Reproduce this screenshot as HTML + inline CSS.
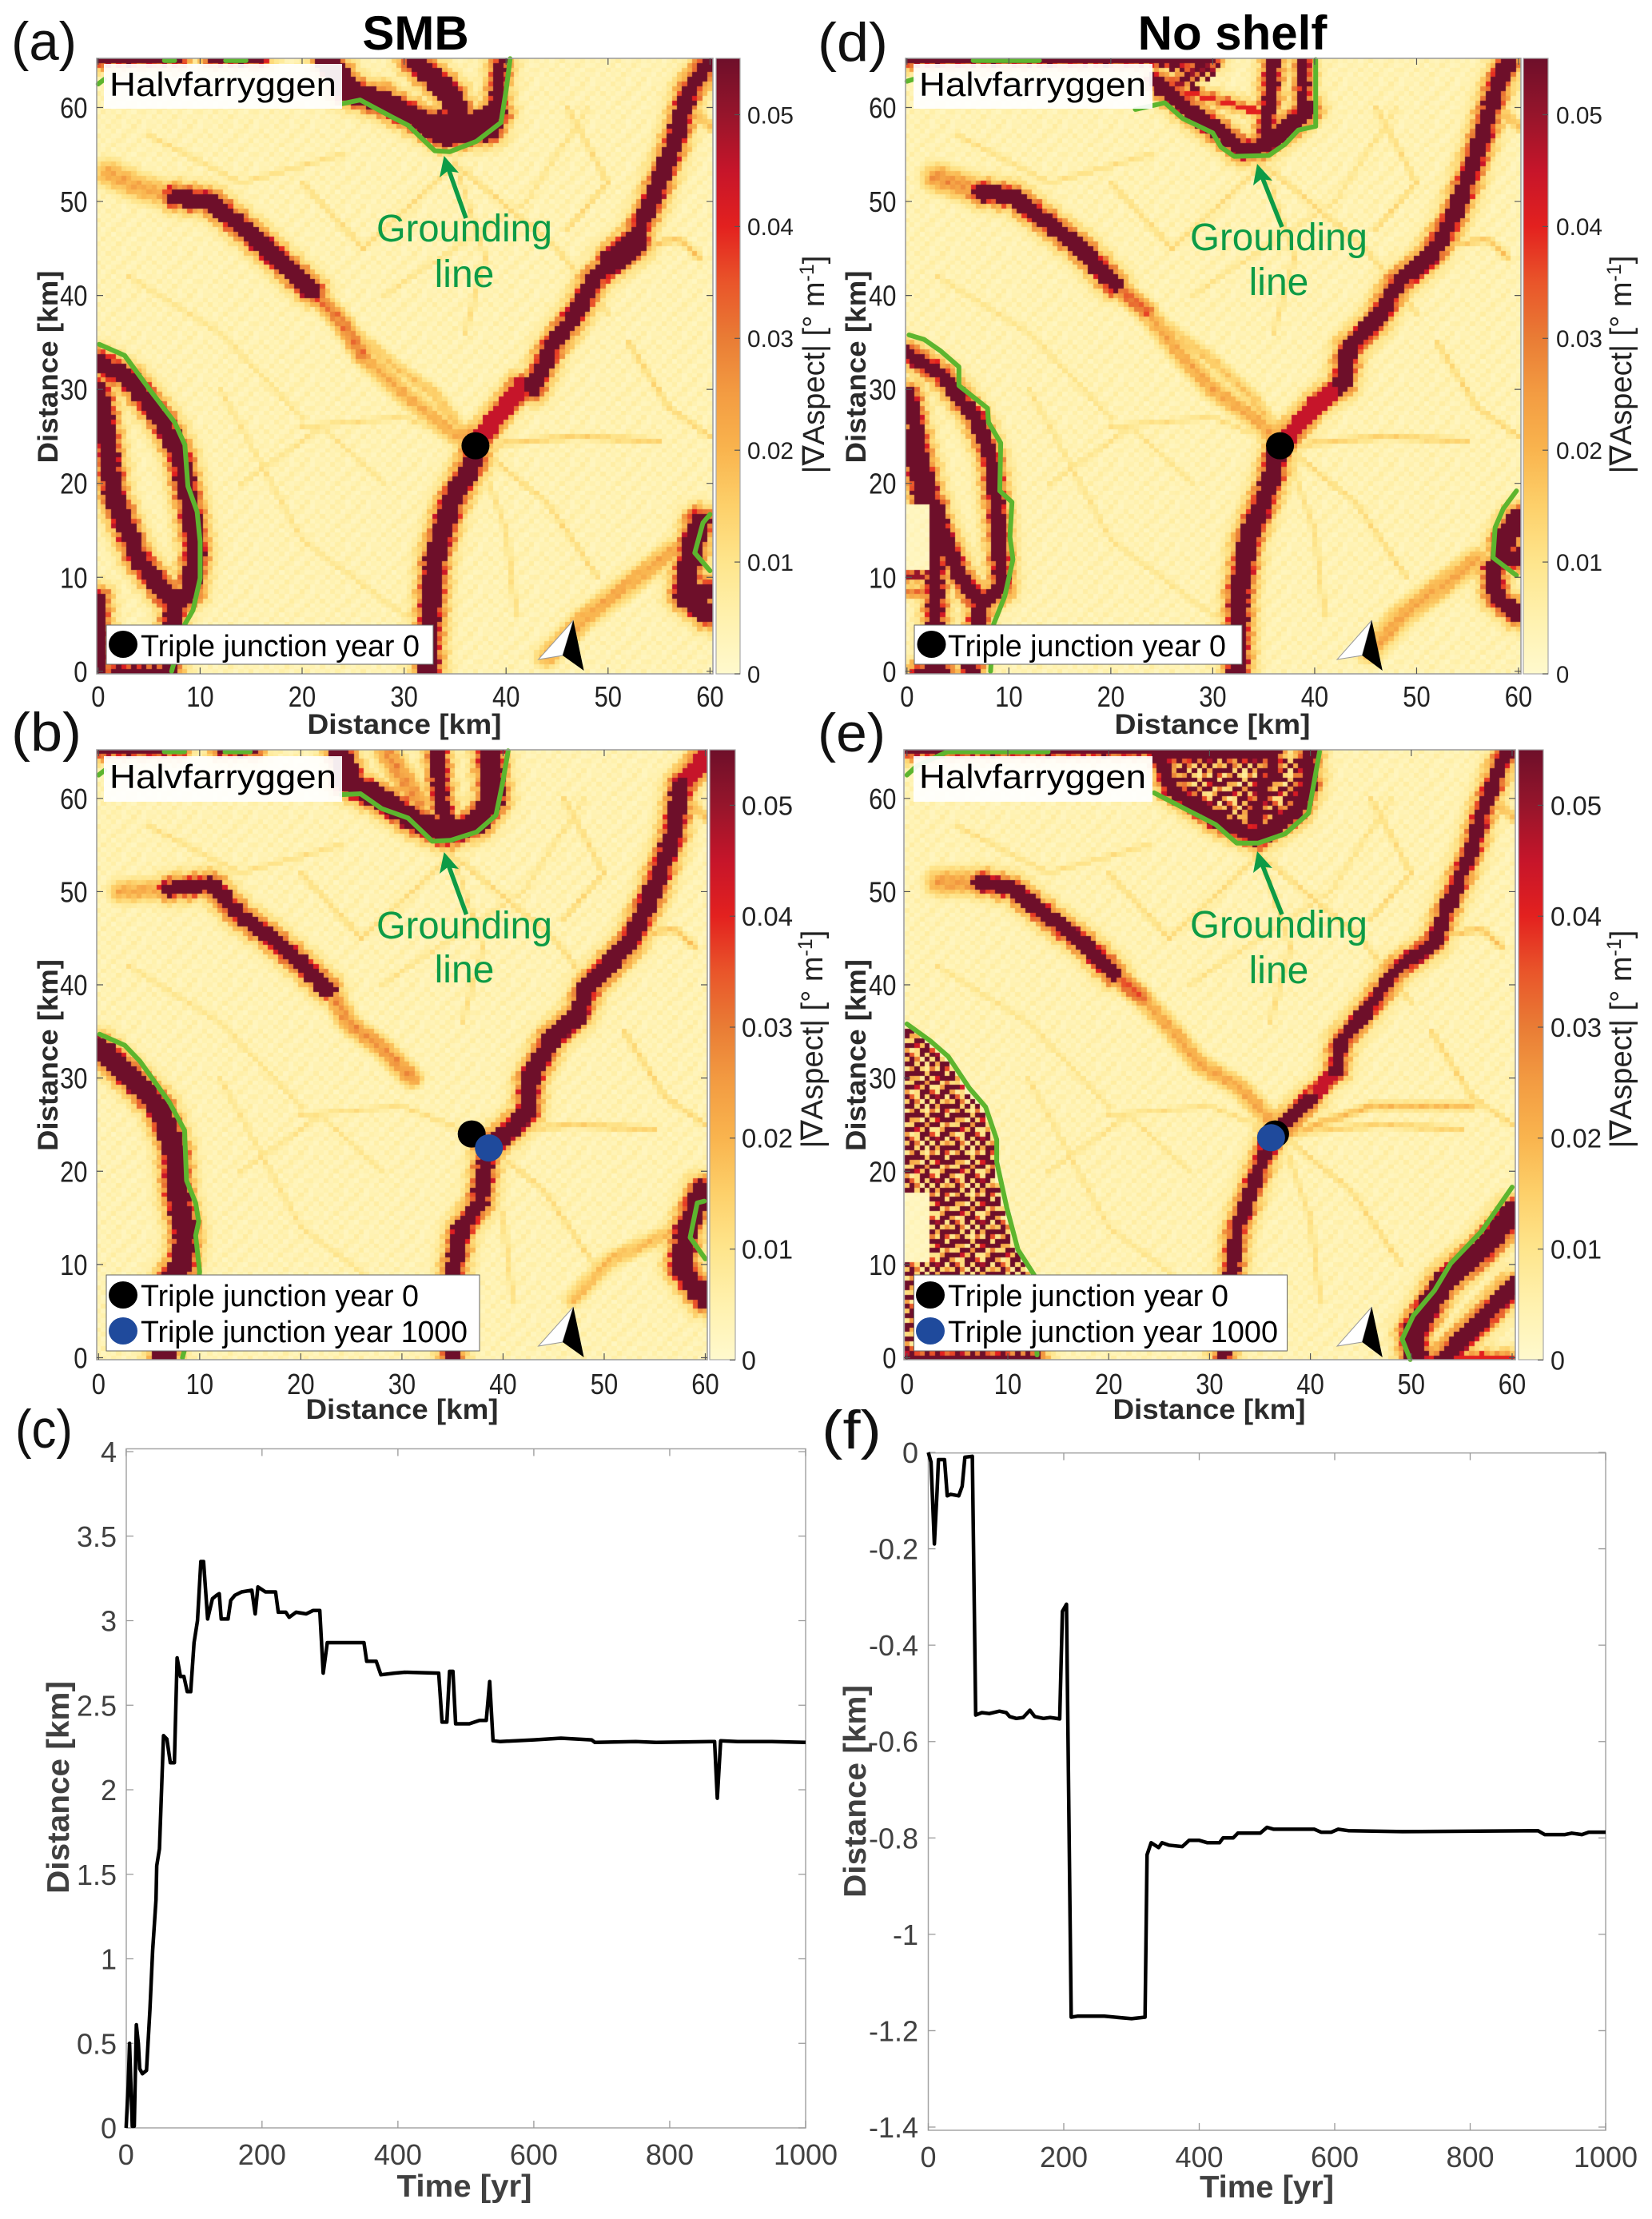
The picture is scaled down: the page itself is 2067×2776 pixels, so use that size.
<!DOCTYPE html>
<html>
<head>
<meta charset="utf-8">
<title>Triple junction migration, Halvfarryggen</title>
<style>
html,body{margin:0;padding:0;background:#fff}
#figure{position:relative;width:2067px;height:2776px;overflow:hidden;background:#fff;font-family:"Liberation Sans",sans-serif}
canvas{position:absolute;display:block}
svg{position:absolute;left:0;top:0}
text{font-family:"Liberation Sans","DejaVu Sans",sans-serif}
.letter{font-size:68px;fill:#111}
.head{font-size:60px;font-weight:bold;fill:#000;text-anchor:middle}
.axt{font-size:35px;font-weight:bold;fill:#2b2b2b;text-anchor:middle}
.axl{font-size:39px;font-weight:bold;fill:#404040;text-anchor:middle}
.lab{font-size:42px;fill:#000}
.leg{font-size:38px;fill:#000}
.gl{font-size:48px;fill:#0d9b46;text-anchor:middle}
.cbt{font-size:38px;fill:#222;text-anchor:middle}
</style>
</head>
<body>
<div id="figure">
<canvas id="heat-a" width="771" height="770" style="left:121px;top:73px;width:771px;height:770px"></canvas>
<canvas id="heat-d" width="770" height="770" style="left:1133px;top:73px;width:770px;height:770px"></canvas>
<canvas id="heat-b" width="764" height="763" style="left:121px;top:938px;width:764px;height:763px"></canvas>
<canvas id="heat-e" width="765" height="763" style="left:1131px;top:938px;width:765px;height:763px"></canvas>
<svg id="overlay" width="2067" height="2776" viewBox="0 0 2067 2776" xmlns="http://www.w3.org/2000/svg">
<defs id="defs"></defs>
<text class="letter" x="14" y="75" textLength="82" lengthAdjust="spacingAndGlyphs">(a)</text>
<text class="letter" x="14" y="939" textLength="88" lengthAdjust="spacingAndGlyphs">(b)</text>
<text class="letter" x="19" y="1811" textLength="72" lengthAdjust="spacingAndGlyphs">(c)</text>
<text class="letter" x="1023" y="76" textLength="88" lengthAdjust="spacingAndGlyphs">(d)</text>
<text class="letter" x="1023" y="940" textLength="85" lengthAdjust="spacingAndGlyphs">(e)</text>
<text class="letter" x="1028" y="1812" textLength="75" lengthAdjust="spacingAndGlyphs">(f)</text>
<text class="head" x="520" y="62">SMB</text>
<text class="head" x="1542" y="62">No shelf</text>

<text class="axt" x="506" y="918" textLength="243" lengthAdjust="spacingAndGlyphs">Distance [km]</text>
<text class="axt" x="503" y="1775" textLength="241" lengthAdjust="spacingAndGlyphs">Distance [km]</text>
<text class="axt" x="1517" y="918" textLength="245" lengthAdjust="spacingAndGlyphs">Distance [km]</text>
<text class="axt" x="1513" y="1775" textLength="241" lengthAdjust="spacingAndGlyphs">Distance [km]</text>
<text class="axt" transform="translate(72,459) rotate(-90)" textLength="241" lengthAdjust="spacingAndGlyphs">Distance [km]</text>
<text class="axt" transform="translate(72,1320) rotate(-90)" textLength="240" lengthAdjust="spacingAndGlyphs">Distance [km]</text>
<text class="axt" transform="translate(1083,459) rotate(-90)" textLength="241" lengthAdjust="spacingAndGlyphs">Distance [km]</text>
<text class="axt" transform="translate(1083,1320) rotate(-90)" textLength="240" lengthAdjust="spacingAndGlyphs">Distance [km]</text>

<text class="cbt" transform="translate(1031,456) rotate(-90)">|∇Aspect| [° m<tspan dy="-13" font-size="25">-1</tspan><tspan dy="13">]</tspan></text>
<text class="cbt" transform="translate(1029,1300) rotate(-90)">|∇Aspect| [° m<tspan dy="-13" font-size="25">-1</tspan><tspan dy="13">]</tspan></text>
<text class="cbt" transform="translate(2041,456) rotate(-90)">|∇Aspect| [° m<tspan dy="-13" font-size="25">-1</tspan><tspan dy="13">]</tspan></text>
<text class="cbt" transform="translate(2041,1300) rotate(-90)">|∇Aspect| [° m<tspan dy="-13" font-size="25">-1</tspan><tspan dy="13">]</tspan></text>

<text class="axl" x="581" y="2748" textLength="169" lengthAdjust="spacingAndGlyphs">Time [yr]</text>
<text class="axl" x="1585" y="2749" textLength="168" lengthAdjust="spacingAndGlyphs">Time [yr]</text>
<text class="axl" transform="translate(86,2236) rotate(-90)" textLength="266" lengthAdjust="spacingAndGlyphs">Distance [km]</text>
<text class="axl" transform="translate(1083,2241) rotate(-90)" textLength="266" lengthAdjust="spacingAndGlyphs">Distance [km]</text>

<g id="plots"></g>

<g><rect x="130" y="80" width="298" height="56" fill="#fff" fill-opacity="0.92"/><text class="lab" x="137" y="120" textLength="284" lengthAdjust="spacingAndGlyphs">Halvfarryggen</text></g>
<g><rect x="130" y="946" width="298" height="57" fill="#fff" fill-opacity="0.92"/><text class="lab" x="137" y="986" textLength="284" lengthAdjust="spacingAndGlyphs">Halvfarryggen</text></g>
<g><rect x="1143" y="80" width="299" height="56" fill="#fff" fill-opacity="0.92"/><text class="lab" x="1150" y="120" textLength="284" lengthAdjust="spacingAndGlyphs">Halvfarryggen</text></g>
<g><rect x="1143" y="946" width="299" height="57" fill="#fff" fill-opacity="0.92"/><text class="lab" x="1150" y="986" textLength="284" lengthAdjust="spacingAndGlyphs">Halvfarryggen</text></g>

<g><text class="gl" x="581" y="302" textLength="220" lengthAdjust="spacingAndGlyphs">Grounding</text><text class="gl" x="581" y="359">line</text><path d="M583 273 L561 211" stroke="#0d9b46" stroke-width="5.5" fill="none"/><path d="M555.6 195 L550 222 L560 214 L574 216 Z" fill="#0d9b46"/></g>
<g><text class="gl" x="581" y="1174" textLength="220" lengthAdjust="spacingAndGlyphs">Grounding</text><text class="gl" x="581" y="1229">line</text><path d="M583.5 1144 L561 1082" stroke="#0d9b46" stroke-width="5.5" fill="none"/><path d="M555.6 1066 L550 1093 L560 1085 L574 1087 Z" fill="#0d9b46"/></g>
<g><text class="gl" x="1600" y="313" textLength="222" lengthAdjust="spacingAndGlyphs">Grounding</text><text class="gl" x="1600" y="369">line</text><path d="M1604 284 L1579 221" stroke="#0d9b46" stroke-width="5.5" fill="none"/><path d="M1573 205 L1568 232 L1578 224 L1592 226 Z" fill="#0d9b46"/></g>
<g><text class="gl" x="1600" y="1173" textLength="222" lengthAdjust="spacingAndGlyphs">Grounding</text><text class="gl" x="1600" y="1230">line</text><path d="M1604 1144 L1579 1081" stroke="#0d9b46" stroke-width="5.5" fill="none"/><path d="M1573 1065 L1568 1092 L1578 1084 L1592 1086 Z" fill="#0d9b46"/></g>

<g><path d="M717.4 776 L673.6 825 L704 820 Z" fill="#fff" stroke="#999" stroke-width="1"/><path d="M717.4 776 L704 820 L730.6 839 Z" fill="#000"/></g>
<g><path d="M717.4 1635 L673.6 1684 L704 1679 Z" fill="#fff" stroke="#999" stroke-width="1"/><path d="M717.4 1635 L704 1679 L730.6 1698 Z" fill="#000"/></g>
<g><path d="M1716.4 776 L1673 825 L1704.4 820 Z" fill="#fff" stroke="#999" stroke-width="1"/><path d="M1716.4 776 L1704.4 820 L1729.8 839 Z" fill="#000"/></g>
<g><path d="M1716.4 1635 L1673 1684 L1704.4 1679 Z" fill="#fff" stroke="#999" stroke-width="1"/><path d="M1716.4 1635 L1704.4 1679 L1729.8 1698 Z" fill="#000"/></g>

<g><rect x="133" y="782" width="409" height="49" fill="#fff" stroke="#666" stroke-width="1"/><ellipse cx="154" cy="806" rx="18" ry="17" fill="#000"/><text class="leg" x="176" y="821" textLength="349" lengthAdjust="spacingAndGlyphs">Triple junction year 0</text></g>
<g><rect x="1144" y="782" width="410" height="49" fill="#fff" stroke="#666" stroke-width="1"/><ellipse cx="1165.5" cy="806" rx="18" ry="17" fill="#000"/><text class="leg" x="1186" y="821" textLength="348" lengthAdjust="spacingAndGlyphs">Triple junction year 0</text></g>
<g><rect x="133" y="1595" width="467" height="95" fill="#fff" stroke="#666" stroke-width="1"/><ellipse cx="154" cy="1620" rx="18" ry="17" fill="#000"/><text class="leg" x="176" y="1634" textLength="348" lengthAdjust="spacingAndGlyphs">Triple junction year 0</text><ellipse cx="154" cy="1665" rx="18" ry="17" fill="#1f4a9c"/><text class="leg" x="176" y="1679" textLength="409" lengthAdjust="spacingAndGlyphs">Triple junction year 1000</text></g>
<g><rect x="1143.5" y="1595" width="467" height="95" fill="#fff" stroke="#666" stroke-width="1"/><ellipse cx="1164" cy="1620" rx="18" ry="17" fill="#000"/><text class="leg" x="1186" y="1634" textLength="351" lengthAdjust="spacingAndGlyphs">Triple junction year 0</text><ellipse cx="1164" cy="1665" rx="18" ry="17" fill="#1f4a9c"/><text class="leg" x="1186" y="1679" textLength="413" lengthAdjust="spacingAndGlyphs">Triple junction year 1000</text></g>
</svg>
</div>
<script>
// ---------- shared axis data ----------
const distanceTicks = [0, 10, 20, 30, 40, 50, 60];
const distanceTickLabels = ["0", "10", "20", "30", "40", "50", "60"];
const colorbarTicks = [0, 0.01, 0.02, 0.03, 0.04, 0.05];
const colorbarTickLabels = ["0", "0.01", "0.02", "0.03", "0.04", "0.05"];
const colormapValues = [0, 0.005, 0.01, 0.015, 0.02, 0.025, 0.03, 0.035, 0.04, 0.045, 0.05, 0.055];
const colormapColors = ["#fff9cd", "#fff1ae", "#fee58c", "#fdd06a", "#f9b44e", "#f39c42", "#e97c35", "#e9552a", "#e3211f", "#c6152a", "#96152b", "#6e0f2a"];
// background cell texture, in ten-thousandths of degrees per metre
const backgroundTile = [
 [38,52,30,62,46,24,54,36,70,28,44],[60,28,46,36,72,44,30,52,38,46,26],[30,70,38,54,28,60,36,22,56,62,40],[44,36,62,22,52,38,70,46,28,34,56],
 [54,24,46,72,38,30,44,62,36,50,30],[36,60,28,44,64,52,24,38,72,28,48],[70,36,52,30,38,72,46,28,44,60,34],[28,46,36,62,24,44,62,54,30,38,66],[50,30,66,40,56,28,36,74,42,24,46]];
const speckleTile = [
 [60,60,14,60,10,60,22,60,60],[16,60,30,8,60,12,60,14,26],[60,34,12,60,14,60,48,60,10],[24,8,12,60,60,36,10,60,60],
 [60,60,44,18,60,10,10,24,60],[12,14,60,60,26,60,60,12,30],[60,22,20,8,60,14,42,60,60],[60,60,60,60,16,60,60,60,12],[10,26,60,14,8,30,12,60,36]];

// ---------- grounding lines [km] ----------
const panelAGrounding = [
 [[23.9,60.4],[25.7,60.8],[28.8,59],[30.4,58.1],[33,55.4],[34.5,55.3],[37.1,56.4],[39.5,58.4],[40,61.8],[40.4,65.2]],
 [[0.1,34.8],[2.6,33.6],[5.1,29.9],[7.5,26.5],[8.5,24.1],[8.8,19.7],[9.7,17],[10,13.8],[10,9.9],[9.3,6.5],[8.5,5],[7.2,0]],
 [[60,16.7],[59.3,15.8],[58.5,12.6],[60,10.7]],
 [[0,62.5],[0.6,63]],[[6.5,65],[7.5,65]],[[12.5,65],[14.5,65]]];
const panelBGrounding = [
 [[24,60.4],[25.9,60.5],[28,58.9],[30.6,57.9],[33,55.4],[34.8,55.5],[37.4,56.4],[39.3,58.2],[40,61.9],[40.5,65.1]],
 [[0.1,34.7],[2.6,33.5],[4.1,31.8],[7,27.4],[8.5,24.4],[8.7,19],[9.6,16.6],[9.9,14.6],[9.6,13.1],[10,9.2],[9.5,5],[8.3,0]],
 [[59.9,16.8],[59.2,16.6],[58.5,12.9],[60,10.6]],
 [[0,62.5],[0.6,63]],[[6.5,65],[8.5,65]],[[12.5,65],[15,65]]];
const panelDGrounding = [
 [[22.4,59.8],[25.3,60.5],[27.1,58.8],[30,57.3],[30.8,55.8],[32.1,54.8],[35.5,54.9],[37.1,56.1],[38.4,57.6],[40.1,58],[40.1,65.1]],
 [[0.2,35.8],[1.7,35.3],[3.3,34.1],[5.1,32.4],[5.1,30.4],[7.9,28],[8,26.5],[9.2,24.3],[9.1,19.2],[10.3,18],[10.1,14.3],[10.4,11.9],[9.6,8],[8.5,5],[8.2,0]],
 [[59.8,19.2],[58.5,17.3],[57.7,15.3],[57.5,12.1],[59.8,10.2]],
 [[0,62.8],[0.6,63]],[[6.5,65],[13,65]]];
const panelEGrounding = [
 [[24.5,60.6],[27.9,58.7],[30.6,57.2],[32.7,55.2],[34.8,55.2],[37.5,56.2],[39.8,58.4],[40.4,61.9],[40.9,65]],
 [[0,35.8],[2.3,34],[4.1,32.3],[6.2,28.9],[7.8,26.9],[8.9,23.4],[8.9,21],[9.9,16.1],[11,11.6],[12.6,8.9],[12.9,0.3]],
 [[60,18.3],[57,13.6],[53.9,10.1],[52.3,7.2],[50.2,4.5],[49.1,2],[49.9,-0.2]],
 [[0,62.5],[1,63.5],[4,65],[14,65]]];

// ---------- triple junction positions [km] ----------
const panelAJunction = [[37, 24]];
const panelBJunction = [[36.9, 24], [38.6, 22.5]];
const panelDJunction = [[36.6, 24]];
const panelEJunction = [[36.5, 24], [36.1, 23.6]];

// ---------- heat ridges: [peak value, half width km, path km] ----------
const sharedFaintRidges = [
 [0.012,0.35,[[35,54],[45,45],[50,38]]],[0.012,0.35,[[35,54],[26,45],[20,52]]],[0.011,0.35,[[35,54],[38,44],[36,36]]],
 [0.014,0.4,[[37,24],[47,25],[55,24.5]]],[0.012,0.35,[[37,24],[44,18],[49,10]]],[0.011,0.35,[[37,24],[40,15],[41,6]]],
 [0.011,0.35,[[37,24],[30,27],[20,26]]],[0.01,0.35,[[3,42],[12,36],[20,27]]],[0.01,0.35,[[14,20],[22,26],[28,20]]],
 [0.011,0.35,[[5,57],[14,52],[24,55]]],[0.012,0.35,[[46,60],[50,52],[46,47]]],[0.016,0.4,[[52,45],[57,46],[59,44]]],
 [0.018,0.6,[[58,60],[60,58]]],[0.013,0.35,[[52,35],[56,28],[60,25]]],[0.01,0.35,[[12,30],[20,14],[30,6]]],[0.01,0.35,[[48,60],[42,50],[28,40]]]];
const panelARidges = [
 [0.06,0.85,[[7.5,50.5],[11,50],[15,46.5],[18,43.5],[21,40.5]]],
 [0.03,0.9,[[21,40.5],[24,37],[26,33.5]]],[0.021,1,[[26,33.5],[30,29.5],[34,26],[36,24.5]]],
 [0.016,0.8,[[24,37],[29,32.5],[33,29.5],[36,25]]],[0.022,1.4,[[1,53],[4,51.5],[7.5,50.5]]],
 [0.045,0.9,[[37,24],[39,27],[41.5,30.5]]],
 [0.06,0.8,[[42.6,30],[44.4,34.4],[47,38.3],[48.6,41.7],[52.2,45.1],[54.3,50],[56.4,55.9],[57.9,61.7],[60,65]]],
 [0.06,1.2,[[50.5,43.8],[52.6,45.6]]],
 [0.06,0.95,[[37,24.5],[36.9,22.6],[34.5,17.7],[33,11.9],[32.4,3],[32.4,0]]],
 [0.06,1.1,[[24,62],[28,60.5],[31,59],[34,57],[37,57.5],[39,59.5]]],
 [0.06,1,[[31,65],[34.5,61.5],[36,58]]],[0.06,0.6,[[39.5,65],[39,60]]],[0.06,1.1,[[22.5,65],[24.5,62]]],
 [0.06,1.5,[[33.5,58],[38,58]]],[0.026,1,[[28,62],[32,58.5]]],
 [0.06,0.9,[[0,33],[3.2,31],[6.4,26.5],[8,23],[9,17.7],[9.6,12.8],[9,8.5],[7.5,7],[4,11.9],[1.5,18.7],[0.5,27.5],[0,30]]],
 [0.06,0.8,[[7.5,7],[7,3],[7,0]]],[0.06,0.5,[[0.2,8],[0.3,0]]],[0.06,0.5,[[1.5,0],[5.9,0]]],
 [0.06,0.4,[[0,65],[8,65]]],[0.06,0.4,[[11,65],[16,65]]],
 [0.06,1,[[59,16],[58,12],[57.5,8],[60,6]]],[0.06,0.6,[[60,9],[59,8]]],
 [0.022,1.1,[[56.4,12.9],[47.5,5.5],[44,1.5]]]];
const panelBRidges = [
 [0.06,0.75,[[7,50.3],[11.2,50.8],[13.8,47.6],[17,45.1],[20.1,42.2],[22.7,39.5]]],
 [0.026,1,[[23,39.2],[24.8,35.8],[28,33.3],[31,30]]],[0.022,1.2,[[2.3,50],[7,50.3]]],
 [0.06,0.85,[[38.5,22.5],[40.6,24.4],[42.4,26.4],[42.7,29.9],[44.8,34.3],[47.4,36.7],[48.4,39.7],[52.6,44.6],[54.7,49.6],[56.8,56],[57.6,61.4]]],
 [0.045,1,[[57.6,61.4],[60.2,64.8]]],
 [0.06,0.75,[[38.5,22.5],[37.7,16.6],[35.8,13.6],[35,8.7],[34.9,0]]],
 [0.06,1.1,[[24.3,61.9],[28,59.9],[31.7,57.4],[34.3,56.2],[37.4,57.4],[39,59.9],[38.7,65]]],
 [0.06,0.7,[[33.5,65],[33.8,60.4],[34.5,56.5]]],[0.026,1.2,[[28.5,65],[31.7,59.4]]],[0.06,1,[[23.8,65],[25,62]]],
 [0.06,0.4,[[0,65],[8,65]]],[0.06,0.4,[[12,65],[15.5,65]]],
 [0.06,1.05,[[0,33.3],[3.4,29.9],[6,26.9],[7.5,22.5],[7.8,17.5],[8.6,13.6],[8.3,10.1],[7,8.2],[6.5,0]]],
 [0.06,1,[[59.7,18],[58.1,13.6],[57.6,9.7],[60,6.2]]],
 [0.018,0.9,[[56.8,13.6],[50.5,10.4],[46.9,6.2]]]];
const panelDRidges = [
 [0.06,0.8,[[7.2,51],[10.4,50.5],[13.5,48],[17.2,44.9],[20.3,41.2]]],
 [0.034,0.9,[[20.3,41.2],[23.5,38.3]]],[0.022,1,[[23.5,38.3],[27,33.5],[30,30],[34,27],[36.5,24.5]]],
 [0.016,0.8,[[25,37],[30,33],[34,29],[36.5,25]]],[0.026,1.4,[[3,52.5],[7.2,51]]],
 [0.045,0.9,[[36.6,24],[40.2,28.5],[42,30]]],
 [0.06,0.8,[[42.6,30.4],[43.4,34.4],[46,37.3],[48.1,41.2],[51.2,44.1],[53.3,47.6],[54.9,52],[56.4,56.8],[57.7,61.7],[59,65]]],
 [0.06,0.9,[[36.6,24],[35.5,19.7],[33.4,13.8],[32.6,8],[32.4,0]]],
 [0.06,0.8,[[24.5,62.7],[27.6,59.8],[30.8,57.3],[32.9,55.4],[35,55.9],[38.1,58.5],[39.4,59.8]]],
 [0.06,0.6,[[36,65.2],[35.5,59.8],[35,55.9]]],[0.06,0.5,[[38.9,65.2],[38.9,59.3]]],
 [0.05,0.4,[[26.6,62.7],[29.7,65]]],[0.04,0.3,[[27.6,61.7],[35.5,59.3]]],[0.06,0.4,[[0,65],[24,65]]],[0.06,0.4,[[24,65],[30,65]]],
 [0.06,0.7,[[0,33.9],[3.6,31.4],[6.7,27],[8.3,22.6],[9,15.3],[9.3,8.9],[7.2,7],[5.1,10.4],[2.5,17.7],[1,25],[0.2,29.5]]],
 [0.06,0.7,[[2.8,17.7],[2.8,0]]],[0.05,0.3,[[0,10.2],[2.8,10.2]]],[0.03,0.6,[[0,8.4],[2.8,8.4]]],
 [0.06,0.7,[[7.2,7],[6.2,0]]],[0.06,0.6,[[0,25],[1.5,17.7]]],[0.06,0.4,[[4,0],[1,0]]],
 [0.06,1,[[60,16.3],[58.7,14],[58.5,12.1],[60,12.1]]],[0.06,0.8,[[57.5,10.9],[57.8,8],[60,6]]],
 [0.022,1.2,[[55.9,11.9],[48.6,6],[45.4,2.1]]]];
const panelERidges = [
 [0.06,0.75,[[7.3,51],[10.5,50.3],[14.2,47.1],[17.9,44.1],[20.5,41.2]]],
 [0.036,0.9,[[20.5,41.2],[23.2,38.7]]],[0.022,1,[[23.2,38.7],[26,35.5],[29,31.5],[33,29],[36,25.5]]],
 [0.024,1.4,[[3.3,51],[7.3,51]]],
 [0.06,0.65,[[36.4,24],[40.1,27.9]]],[0.045,0.6,[[40.1,27.9],[42.5,30.8]]],
 [0.06,0.65,[[42.5,30.8],[43,33.8],[45.9,37.7],[48.6,41.7],[52.3,44.6],[53.9,49.1],[56,54.5],[57,58.4],[58.9,63.8],[59.7,65]]],
 [0.06,0.65,[[36.1,23.6],[34.3,18.5],[32.7,13.6],[32.2,8.7],[31.4,0]]],
 [0.06,0.75,[[26.3,60.9],[31.1,57.4],[34.8,55.7],[38.5,58.4],[39.8,61.4],[39.8,65]]],
 [0.06,0.7,[[25.8,65],[36.4,65]]],[0.06,0.7,[[24.8,65],[26.3,60.9]]],[0.06,0.5,[[36.4,63.8],[34.3,57.9]]],
 [0.06,1.1,[[60.2,15.6],[57,11.6],[53.3,8.2],[50.2,2.8],[50.4,0]]],
 [0.06,0.85,[[60.2,7.7],[54.4,1.3],[53.3,0]]],[0.04,0.3,[[50.4,0.1],[60.2,0.1]]],
 [0.06,0.4,[[0,65],[24,65]]],[0.06,0.4,[[0,0],[13,0]]],[0.018,0.5,[[38,24],[46,27],[56,27]]]];
// speckled regions (mixed saturated and moderate cells), km polygons
const panelASpeckle = [];
const panelBSpeckle = [];
const panelDSpeckle = [[[25,65],[31,65],[28.5,61]]];
const panelESpeckle = [
 [[0,35.5],[2.3,33.6],[4.1,31.9],[6,28.5],[7.5,26.5],[8.6,23.4],[8.6,21],[9.6,16],[10.7,11.5],[12.3,8.9],[12.6,0],[0,0]],
 [[26,64.5],[40.4,64.5],[40.1,60],[37.5,56.6],[34.8,55.6],[30.6,57.6],[27.9,59.4]]];
// quiet patches showing only background, km polygons
const panelAQuiet = [];
const panelBQuiet = [];
const panelDQuiet = [[[0,10.6],[2.3,10.6],[2.3,18],[0,18]]];
const panelEQuiet = [[[0,10.4],[2.5,10.4],[2.5,18],[0,18]]];

// ---------- line chart series ----------
const panelCTime = [0,3,5,9,12,15,18,20,24,30,35,39,44,45,49,53,55,60,65,71,75,80,85,90,95,100,105,110,114,120,127,133,137,140,150,154,160,170,185,190,194,205,220,224,235,240,250,265,275,285,290,296,350,354,368,375,395,410,460,465,472,476,481,485,505,520,530,535,540,550,600,640,685,690,750,780,860,866,870,875,900,950,1000];
const panelCDistance = [0,0.25,0.5,0.01,0.01,0.61,0.5,0.35,0.32,0.34,0.7,1.05,1.35,1.55,1.65,2.1,2.32,2.3,2.16,2.16,2.78,2.67,2.67,2.58,2.58,2.87,3.0,3.35,3.35,3.01,3.13,3.15,3.16,3.01,3.01,3.12,3.15,3.17,3.18,3.04,3.2,3.17,3.17,3.05,3.05,3.02,3.05,3.04,3.06,3.06,2.69,2.87,2.87,2.76,2.76,2.68,2.69,2.695,2.69,2.4,2.4,2.7,2.7,2.39,2.39,2.41,2.41,2.64,2.29,2.285,2.295,2.305,2.295,2.28,2.285,2.28,2.285,2.285,1.95,2.29,2.285,2.285,2.28];
const panelFTime = [0,4,9,13,15,24,28,33,45,50,54,65,70,79,90,105,115,120,130,140,150,157,170,180,194,198,204,211,220,260,300,320,323,329,340,345,355,375,385,400,412,430,435,450,457,490,500,510,570,580,595,605,620,700,900,910,940,950,965,975,1000];
const panelFDistance = [0,-0.02,-0.19,-0.08,-0.015,-0.015,-0.09,-0.087,-0.09,-0.07,-0.01,-0.008,-0.545,-0.54,-0.542,-0.537,-0.54,-0.548,-0.552,-0.55,-0.535,-0.548,-0.552,-0.55,-0.553,-0.33,-0.315,-1.172,-1.17,-1.17,-1.175,-1.172,-0.835,-0.81,-0.82,-0.81,-0.815,-0.818,-0.805,-0.805,-0.81,-0.81,-0.8,-0.8,-0.79,-0.79,-0.778,-0.782,-0.782,-0.788,-0.788,-0.782,-0.785,-0.787,-0.785,-0.793,-0.793,-0.79,-0.793,-0.788,-0.788];
const timeTicks = [0,200,400,600,800,1000];
const timeTickLabels = ["0","200","400","600","800","1000"];
const panelCYTicks = [0,0.5,1,1.5,2,2.5,3,3.5,4];
const panelCYTickLabels = ["0","0.5","1","1.5","2","2.5","3","3.5","4"];
const panelFYTicks = [0,-0.2,-0.4,-0.6,-0.8,-1,-1.2,-1.4];
const panelFYTickLabels = ["0","-0.2","-0.4","-0.6","-0.8","-1","-1.2","-1.4"];

// ---------- helpers ----------
const SVGNS = "http://www.w3.org/2000/svg";
const plotsRoot = document.getElementById("plots");
function svgEl(tag, attrs, parent) {
  const el = document.createElementNS(SVGNS, tag);
  for (const k in attrs) el.setAttribute(k, attrs[k]);
  (parent || plotsRoot).appendChild(el);
  return el;
}
function hexRgb(h) { return [parseInt(h.slice(1,3),16), parseInt(h.slice(3,5),16), parseInt(h.slice(5,7),16)]; }
const colormapRgb = colormapColors.map(hexRgb);
function colorOf(v) {
  const n = colormapValues.length;
  if (v <= colormapValues[0]) return colormapRgb[0];
  if (v >= colormapValues[n-1]) return colormapRgb[n-1];
  for (let i = 1; i < n; i++) {
    if (v <= colormapValues[i]) {
      const t = (v - colormapValues[i-1]) / (colormapValues[i] - colormapValues[i-1]);
      const a = colormapRgb[i-1], b = colormapRgb[i];
      return [a[0]+(b[0]-a[0])*t, a[1]+(b[1]-a[1])*t, a[2]+(b[2]-a[2])*t];
    }
  }
  return colormapRgb[n-1];
}
function segDist(px, py, a, b) {
  const dx = b[0]-a[0], dy = b[1]-a[1];
  const l = dx*dx + dy*dy;
  let t = l ? ((px-a[0])*dx + (py-a[1])*dy) / l : 0;
  t = Math.max(0, Math.min(1, t));
  const qx = a[0]+t*dx-px, qy = a[1]+t*dy-py;
  return Math.sqrt(qx*qx + qy*qy);
}
function inPoly(px, py, poly) {
  let c = false;
  for (let i = 0, j = poly.length-1; i < poly.length; j = i++) {
    const a = poly[i], b = poly[j];
    if ((a[1] > py) !== (b[1] > py) && px < (b[0]-a[0])*(py-a[1])/(b[1]-a[1]) + a[0]) c = !c;
  }
  return c;
}
function cellValue(x, y, i, j, ridges, speckle, quiet) {
  const tile = backgroundTile[j % backgroundTile.length][i % backgroundTile[0].length];
  const base = tile * 0.0001 * 0.95;
  for (const q of quiet) if (inPoly(x, y, q)) return base * 0.55;
  let v = base;
  const tileScale = 0.72 + tile / 160;
  const rough = (tile - 46) * 0.006;
  for (const s of speckle) {
    if (inPoly(x, y, s)) {
      const sv = speckleTile[j % speckleTile.length][i % speckleTile[0].length] * 0.001;
      if (sv > v) v = sv;
    }
  }
  for (const r of ridges) {
    const peak = r[0], w = r[1], pts = r[2];
    let d = 1e9;
    for (let k = 0; k < pts.length-1; k++) {
      const e = segDist(x, y, pts[k], pts[k+1]);
      if (e < d) d = e;
    }
    let val;
    if (peak < 0.04) {
      const q = d / (w * 1.2);
      val = peak * Math.exp(-q*q) * tileScale;
    } else {
      const e = d - (w + rough);
      val = e <= 0 ? peak : peak * (0.55 * Math.exp(-e / 0.5) + 0.16 * Math.exp(-e / 2)) * tileScale;
    }
    if (val > v) v = val;
  }
  return v;
}
function drawHeat(p) {
  const cv = document.getElementById(p.canvas);
  const ctx = cv.getContext("2d");
  const ox = p.plot[0], oy = p.plot[1];
  const cell = 0.5;
  const allRidges = p.ridges.concat(sharedFaintRidges);
  for (let i = 0; i <= 122; i++) {
    const xKm = i * cell;
    const x0 = Math.round(p.xS(xKm - cell/2) - ox), x1 = Math.round(p.xS(xKm + cell/2) - ox);
    for (let j = 0; j <= 132; j++) {
      const yKm = j * cell;
      const y0 = Math.round(p.yS(yKm + cell/2) - oy), y1 = Math.round(p.yS(yKm - cell/2) - oy);
      const c = colorOf(cellValue(xKm, yKm, i, j, allRidges, p.speckle, p.quiet));
      ctx.fillStyle = "rgb(" + Math.round(c[0]) + "," + Math.round(c[1]) + "," + Math.round(c[2]) + ")";
      ctx.fillRect(x0, y0, x1-x0, y1-y0);
    }
  }
}
function pathFrom(pts, xS, yS) {
  return pts.map(function (q, i) { return (i ? "L" : "M") + xS(q[0]).toFixed(1) + " " + yS(q[1]).toFixed(1); }).join(" ");
}
function linearScale(v0, p0, v1, p1) { return function (v) { return p0 + (v - v0) * (p1 - p0) / (v1 - v0); }; }

// ---------- heat panels ----------
const heatPanels = [
 {id:"a", canvas:"heat-a", plot:[121,73,892,843], xS:linearScale(0,122.8,60,888.4), yS:linearScale(0,839.8,60,134.5), cb:[896,926], cbTop:73, cbS:linearScale(0,843,0.05,143.5), cbLab:935, cbW:58, cbFs:30, yLab:109.5, xLab:884, ridges:panelARidges, speckle:panelASpeckle, quiet:panelAQuiet, ground:panelAGrounding, junction:panelAJunction},
 {id:"b", canvas:"heat-b", plot:[121,938,885,1701], xS:linearScale(0,123.3,60,882.5), yS:linearScale(0,1698.5,60,998.8), cb:[888,920], cbTop:938, cbS:linearScale(0,1701.4,0.05,1007.4), cbLab:928, cbW:64, cbFs:33, yLab:109.5, xLab:1744, ridges:panelBRidges, speckle:panelBSpeckle, quiet:panelBQuiet, ground:panelBGrounding, junction:panelBJunction},
 {id:"d", canvas:"heat-d", plot:[1133,73,1903,843], xS:linearScale(0,1134.8,60,1900), yS:linearScale(0,839.8,60,134.5), cb:[1906,1937], cbTop:73, cbS:linearScale(0,843,0.05,143.5), cbLab:1947, cbW:58, cbFs:30, yLab:1121.5, xLab:884, ridges:panelDRidges, speckle:panelDSpeckle, quiet:panelDQuiet, ground:panelDGrounding, junction:panelDJunction},
 {id:"e", canvas:"heat-e", plot:[1131,938,1896,1701], xS:linearScale(0,1134.8,60,1892), yS:linearScale(0,1698.5,60,998.8), cb:[1900,1931], cbTop:938, cbS:linearScale(0,1701.4,0.05,1007.4), cbLab:1940, cbW:64, cbFs:33, yLab:1121.5, xLab:1744, ridges:panelERidges, speckle:panelESpeckle, quiet:panelEQuiet, ground:panelEGrounding, junction:panelEJunction}
];
const junctionColors = ["#000000", "#1f4a9c"];
const defs = document.getElementById("defs");

heatPanels.forEach(function (p) {
  drawHeat(p);
  const L = p.plot[0], T = p.plot[1], R = p.plot[2], B = p.plot[3];
  const g = svgEl("g", {});
  
  

  p.ground.forEach(function (line) {
    const gl = svgEl("path", {d: pathFrom(line, p.xS, p.yS), fill: "none", stroke: "#5db52e", "stroke-width": 6, "stroke-linejoin": "round", "stroke-linecap": "round"}, g);
    
    
  });
  p.junction.forEach(function (q, i) {
    const m = svgEl("ellipse", {cx: p.xS(q[0]), cy: p.yS(q[1]), rx: 17.5, ry: 17, fill: junctionColors[i]}, g);
    
    
  });

  svgEl("rect", {x: L, y: T, width: R-L, height: B-T, fill: "none", stroke: "#9a9a9a", "stroke-width": 1.5}, g);
  distanceTicks.forEach(function (t, i) {
    const x = p.xS(t);
    svgEl("path", {d: "M"+x+" "+B+" V"+(B-8)+" M"+x+" "+T+" V"+(T+8), stroke: "#555", "stroke-width": 1.2, fill: "none"}, g);
    const lab = svgEl("text", {x: x, y: p.xLab, "text-anchor": "middle", "font-size": 36, fill: "#222", textLength: 17.2*distanceTickLabels[i].length, lengthAdjust: "spacingAndGlyphs"}, g);
    lab.textContent = distanceTickLabels[i];
    
    
  });
  distanceTicks.forEach(function (t, i) {
    const y = p.yS(t);
    svgEl("path", {d: "M"+L+" "+y+" H"+(L+8)+" M"+R+" "+y+" H"+(R-8), stroke: "#555", "stroke-width": 1.2, fill: "none"}, g);
    const lab = svgEl("text", {x: p.yLab, y: y+13, "text-anchor": "end", "font-size": 36, fill: "#222", textLength: 17.2*distanceTickLabels[i].length, lengthAdjust: "spacingAndGlyphs"}, g);
    lab.textContent = distanceTickLabels[i];
    
    
  });

  // colorbar
  const cbTopValue = (function(){ const s = p.cbS; return (p.cbTop - s(0)) / (s(0.05) - s(0)) * 0.05; })();
  const grad = document.createElementNS(SVGNS, "linearGradient");
  grad.setAttribute("id", "cmap-" + p.id);
  grad.setAttribute("x1", "0"); grad.setAttribute("x2", "0"); grad.setAttribute("y1", "1"); grad.setAttribute("y2", "0");
  colormapValues.forEach(function (v, i) {
    const st = document.createElementNS(SVGNS, "stop");
    st.setAttribute("offset", Math.min(1, v / cbTopValue));
    st.setAttribute("stop-color", colormapColors[i]);
    grad.appendChild(st);
  });
  defs.appendChild(grad);
  const cb = svgEl("rect", {x: p.cb[0], y: T, width: p.cb[1]-p.cb[0], height: B-T, fill: "url(#cmap-"+p.id+")", stroke: "#a8a8a8", "stroke-width": 1.2}, g);
  
  
  colorbarTicks.forEach(function (t, i) {
    const y = p.cbS(t);
    svgEl("path", {d: "M"+p.cb[1]+" "+y+" H"+(p.cb[1]-7), stroke: "#555", "stroke-width": 1.2, fill: "none"}, g);
    const lab = svgEl("text", {x: p.cbLab, y: y+(p.cbFs*0.36), "font-size": p.cbFs, fill: "#222", textLength: colorbarTickLabels[i].length === 1 ? p.cbW*0.28 : p.cbW, lengthAdjust: "spacingAndGlyphs"}, g);
    lab.textContent = colorbarTickLabels[i];
    
    
  });
});

// ---------- line panels ----------
const linePanels = [
 {id:"c", box:[158,1812.5,1008,2662], xS:linearScale(0,157.8,1000,1008), yS:linearScale(0,2662,4,1816), time:panelCTime, dist:panelCDistance, yTicks:panelCYTicks, yLabs:panelCYTickLabels, yLab:146, xLab:2708},
 {id:"f", box:[1161.5,1817.7,2009,2665], xS:linearScale(0,1161.5,1000,2009), yS:linearScale(0,1817,-1.4,2661), time:panelFTime, dist:panelFDistance, yTicks:panelFYTicks, yLabs:panelFYTickLabels, yLab:1149, xLab:2711}
];
linePanels.forEach(function (p) {
  const L = p.box[0], T = p.box[1], R = p.box[2], B = p.box[3];
  const g = svgEl("g", {});
  
  
  svgEl("rect", {x: L, y: T, width: R-L, height: B-T, fill: "#fff", stroke: "#a5a5a5", "stroke-width": 1.5}, g);
  timeTicks.forEach(function (t, i) {
    const x = p.xS(t);
    svgEl("path", {d: "M"+x+" "+B+" V"+(B-9)+" M"+x+" "+T+" V"+(T+9), stroke: "#999", "stroke-width": 1.3, fill: "none"}, g);
    const lab = svgEl("text", {x: x, y: p.xLab, "text-anchor": "middle", "font-size": 36, fill: "#404040"}, g);
    lab.textContent = timeTickLabels[i];
    
    
  });
  p.yTicks.forEach(function (t, i) {
    const y = p.yS(t);
    svgEl("path", {d: "M"+L+" "+y+" H"+(L+9)+" M"+R+" "+y+" H"+(R-9), stroke: "#999", "stroke-width": 1.3, fill: "none"}, g);
    const lab = svgEl("text", {x: p.yLab, y: y+13, "text-anchor": "end", "font-size": 36, fill: "#404040"}, g);
    lab.textContent = p.yLabs[i];
    
    
  });
  const pts = p.time.map(function (t, i) { return [t, p.dist[i]]; });
  const line = svgEl("path", {d: pathFrom(pts, p.xS, p.yS), fill: "none", stroke: "#000", "stroke-width": 4.5, "stroke-linejoin": "round"}, g);
  
  
});
</script>
</body>
</html>
